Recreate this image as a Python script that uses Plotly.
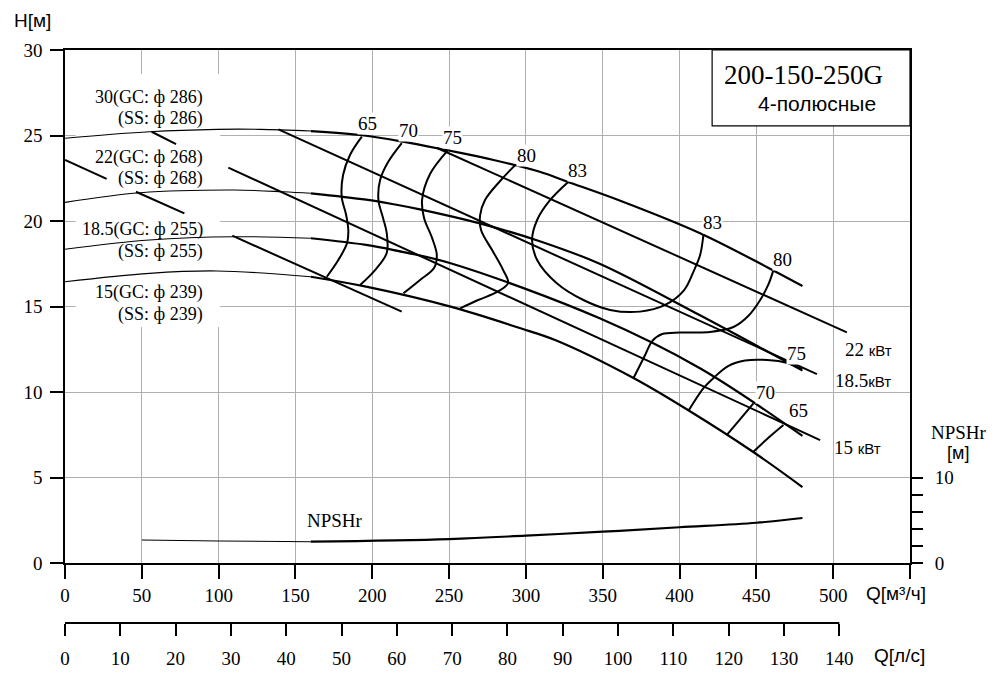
import plotly.graph_objects as go

# --- H-Q curves (Q, м³/ч ; H, м) ---
Q_286 = [0, 55, 99, 127, 160, 192, 220, 248, 279, 309, 327, 361, 413, 457, 480]
H_286 = [24.84, 25.22, 25.36, 25.36, 25.26, 25.03, 24.64, 24.15, 23.57, 22.88, 22.3, 21.2, 19.3, 17.3, 16.2]

Q_268 = [0, 49, 110, 142, 160, 196, 214, 231, 270, 309, 348, 413, 480]
H_268 = [21.09, 21.65, 21.81, 21.71, 21.62, 21.25, 20.98, 20.68, 19.86, 18.82, 17.5, 14.5, 11.25]

Q_255 = [0, 55, 110, 160, 196, 214, 251, 348, 413, 480]
H_255 = [18.35, 18.89, 19.08, 18.99, 18.6, 18.3, 17.53, 14.31, 11.4, 7.43]

Q_239 = [0, 55, 99, 160, 196, 251, 296, 319, 370, 406.5, 448, 480]
H_239 = [16.45, 16.94, 17.08, 16.74, 16.16, 14.99, 13.74, 13.04, 10.82, 8.89, 6.49, 4.44]

# --- power lines ---
Q_22KW = [242.2, 508.9]
H_22KW = [24.27, 13.49]
Q_185KW = [138.9, 489.4]
H_185KW = [25.36, 11.05]
Q_15KW = [106.3, 491.5]
H_15KW = [23.12, 7.19]
Q_11KW = [108.9, 219.2]
H_11KW = [19.14, 14.7]
SEGMENTS = [([56.4, 72.3], [25.22, 24.5]),
            ([0, 27.1], [23.57, 22.46]),
            ([46.2, 77.7], [21.71, 20.45])]

# --- efficiency curves ---
EFF_CURVES = {
    '65 left': ([193.2, 185.5, 181.0, 180.1, 183.0, 184.4, 183.6, 177.9, 170.4],
                [24.93, 23.86, 22.69, 21.42, 20.35, 19.47, 18.71, 17.72, 16.74]),
    '70 left': ([219.2, 210.3, 205.1, 204.0, 207.0, 209.4, 209.4, 201.8, 192.1],
                [24.56, 23.45, 22.40, 21.23, 20.18, 19.30, 18.13, 17.13, 16.26]),
    '75 left': ([249.0, 237.6, 232.4, 233.7, 238.9, 242.0, 240.2, 231.1, 220.3],
                [24.12, 22.75, 21.23, 20.18, 19.01, 18.01, 17.25, 16.55, 15.77]),
    '80 left': ([293.0, 283.2, 273.4, 270.2, 270.8, 278.0, 285.2, 288.4, 281.3, 268.9, 257.2],
                [23.27, 22.34, 21.23, 20.35, 19.47, 18.30, 17.13, 16.37, 15.85, 15.38, 14.89]),
    '83': ([327.7, 315.8, 307.3, 304.0, 307.3, 320.1, 337.4, 354.8, 374.3, 390.6, 403.0, 409.5, 413.4, 415.6],
           [22.30, 21.23, 20.06, 18.89, 17.72, 16.36, 15.38, 14.80, 14.70, 15.09, 15.96, 17.13, 18.01, 19.24]),
    '80 right': ([461.1, 457.7, 452.5, 444.7, 435.1, 419.9, 400.4, 388.7, 382.2, 377.6, 370.0],
                 [17.13, 16.26, 15.38, 14.44, 13.80, 13.51, 13.48, 13.39, 12.98, 12.16, 10.8]),
    '75 right': ([479.8, 470.1, 457.0, 442.7, 431.6, 422.1, 415.6, 405.8],
                 [11.32, 11.70, 11.87, 11.84, 11.52, 10.82, 10.23, 8.9]),
    '70 right': ([448.1, 439.5, 430.8], [9.34, 8.42, 7.49]),
    '65 right': ([467.6, 457.7, 448.1], [8.07, 7.31, 6.51]),
}

EFF_LABELS = ['65', '70', '75', '80', '83', '83', '80', '75', '70', '65']
EFF_LABEL_Q = [196.6, 223.3, 252, 300.1, 333.3, 421.2, 466.8, 475.9, 455.7, 477.2]
EFF_LABEL_H = [25.73, 25.32, 24.9, 23.86, 22.98, 19.94, 17.72, 12.28, 10.0, 8.89]

# --- NPSHr ---
Q_NPSH = [50, 100, 160, 250, 300, 350, 400, 450, 480]
NPSH = [2.69, 2.57, 2.49, 2.8, 3.2, 3.66, 4.18, 4.71, 5.26]

CURVE_LABELS = [('30(GC: ф 286)', 27.25), ('(SS: ф 286)', 26.02),
                ('22(GC: ф 268)', 23.74), ('(SS: ф 268)', 22.51),
                ('18.5(GC: ф 255)', 19.53), ('(SS: ф 255)', 18.19),
                ('15(GC: ф 239)', 15.79), ('(SS: ф 239)', 14.56)]

X_TICKS = [0, 50, 100, 150, 200, 250, 300, 350, 400, 450, 500, 550]
LS_TICKS = [0, 10, 20, 30, 40, 50, 60, 70, 80, 90, 100, 110, 120, 130, 140]
SPLIT_Q = 160

SERIF = 'Liberation Serif'
SANS = 'Liberation Sans'

fig = go.Figure()


def add_line(q, h, width, yaxis='y', shape='spline'):
    fig.add_trace(go.Scatter(x=q, y=h, mode='lines', yaxis=yaxis,
                             line=dict(color='black', width=width, shape=shape),
                             hoverinfo='skip', showlegend=False))


def add_split(q, h, yaxis='y'):
    # thin line left of SPLIT_Q, thick line in the working range
    thin = [(a, b) for a, b in zip(q, h) if a <= SPLIT_Q]
    thick = [(a, b) for a, b in zip(q, h) if a >= SPLIT_Q]
    add_line([p[0] for p in thin], [p[1] for p in thin], 1.1, yaxis)
    add_line([p[0] for p in thick], [p[1] for p in thick], 2.2, yaxis)


for q, h in [(Q_286, H_286), (Q_268, H_268), (Q_255, H_255), (Q_239, H_239)]:
    add_split(q, h)

for q, h in [(Q_22KW, H_22KW), (Q_185KW, H_185KW), (Q_15KW, H_15KW), (Q_11KW, H_11KW)] + SEGMENTS:
    add_line(q, h, 2, shape='linear')

for name, (q, h) in EFF_CURVES.items():
    add_line(q, h, 2)

add_split(Q_NPSH, NPSH, yaxis='y2')

# dummy trace so the second x axis (л/с) is drawn
fig.add_trace(go.Scatter(x=[0], y=[0], xaxis='x2', yaxis='y', mode='markers',
                         marker=dict(opacity=0), hoverinfo='skip', showlegend=False))

ann = []
for t, qq, hh in zip(EFF_LABELS, EFF_LABEL_Q, EFF_LABEL_H):
    ann.append(dict(x=qq, y=hh, text=t, showarrow=False, bgcolor='white',
                    font=dict(family=SERIF, size=19, color='black'), borderpad=0))
for t, hh in CURVE_LABELS:
    ann.append(dict(x=91.1, y=hh, text=t, showarrow=False, xanchor='right',
                    font=dict(family=SERIF, size=18, color='black')))

kw_span = "<span style='font-family:Liberation Sans;font-size:15px'>кВт</span>"
for t, qq, hh in [('22 ', 506.5, 12.46), ('18.5', 500, 10.7), ('15 ', 499.3, 6.78)]:
    ann.append(dict(x=qq, y=hh, text=t + kw_span, xanchor='left', showarrow=False,
                    font=dict(family=SERIF, size=19, color='black')))

ann += [
    dict(x=175.8, y=2.51, text='NPSHr', showarrow=False,
         font=dict(family=SERIF, size=19, color='black')),
    dict(x=480.5, y=28.54, text='200-150-250G', showarrow=False,
         font=dict(family=SERIF, size=27, color='black')),
    dict(x=489.6, y=26.9, text='4-полюсные', showarrow=False,
         font=dict(family=SANS, size=21, color='black')),
]

# axis titles, placed on the page (paper coordinates)
for t, px, py, fam, sz in [('H[м]', -0.038, 1.052, SANS, 19),
                           ('Q[м³/ч]', 0.983, 0.052, SANS, 19),
                           ('Q[л/с]', 0.988, -0.056, SANS, 19),
                           ('NPSHr', 1.058, 0.333, SERIF, 19),
                           ('[м]', 1.057, 0.297, SANS, 18)]:
    ann.append(dict(xref='paper', yref='paper', x=px, y=py, text=t, showarrow=False,
                    xanchor='center', yanchor='middle',
                    font=dict(family=fam, size=sz, color='black')))

shapes = [
    # white area behind the left labels (grid hidden there)
    dict(type='rect', xref='x', yref='y', x0=7, x1=101, y0=13.8, y1=28.6,
         fillcolor='white', line=dict(width=0), layer='between'),
    # title box
    dict(type='rect', xref='x', yref='y', x0=421.2, x1=550, y0=25.56, y1=30,
         fillcolor='white', line=dict(color='black', width=1.2), layer='between'),
    # л/с axis line
    dict(type='line', xref='x2', yref='paper', x0=0, x1=140, y0=0, y1=0,
         line=dict(color='black', width=2)),
]

tick_font = dict(family=SERIF, size=19, color='black')

fig.update_layout(
    width=1000, height=679,
    margin=dict(l=57, r=98, t=42, b=64),
    paper_bgcolor='white', plot_bgcolor='white',
    showlegend=False,
    annotations=ann,
    shapes=shapes,
    xaxis=dict(range=[0, 550], tickvals=X_TICKS,
               ticktext=[str(v) if v < 550 else '' for v in X_TICKS],
               ticks='outside', ticklen=14, tickwidth=1.5, tickcolor='black',
               showgrid=True, gridcolor='#b0b0b0', gridwidth=1,
               showline=True, linecolor='black', linewidth=2, mirror=True,
               zeroline=False, tickfont=tick_font, anchor='y'),
    yaxis=dict(range=[0, 30], domain=[0.1047, 1], tickvals=[0, 5, 10, 15, 20, 25, 30],
               ticks='outside', ticklen=13, tickwidth=1.5, tickcolor='black',
               showgrid=True, gridcolor='#b0b0b0', gridwidth=1,
               showline=True, linecolor='black', linewidth=1.5, mirror=True,
               zeroline=False, tickfont=tick_font, ticklabelstandoff=4),
    yaxis2=dict(range=[0, 60], overlaying='y', side='right',
                tickvals=[0, 2, 4, 6, 8, 10], ticktext=['0', '', '', '', '', '10'],
                ticks='outside', ticklen=12, tickwidth=1.5, tickcolor='black',
                showgrid=False, showline=False, zeroline=False, tickfont=tick_font,
                ticklabelstandoff=8),
    xaxis2=dict(range=[0, 550 / 3.6], overlaying='x', anchor='free', position=0,
                side='bottom', tickvals=LS_TICKS,
                ticks='outside', ticklen=12, tickwidth=1.5, tickcolor='black',
                showgrid=False, showline=False, zeroline=False, tickfont=tick_font,
                ticklabelstandoff=6),
)

fig.write_html("out.html")
